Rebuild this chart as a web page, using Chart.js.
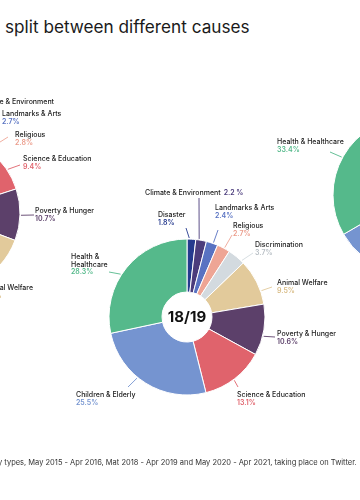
<!DOCTYPE html>
<html><head><meta charset="utf-8">
<script src="https://cdn.jsdelivr.net/npm/chart.js@4.4.1/dist/chart.umd.min.js"></script>
<style>
html,body{margin:0;padding:0;background:#fff;width:360px;height:500px;overflow:hidden;position:relative;font-family:Inter,sans-serif}
#title{position:absolute;left:5px;top:17px;font-size:17.2px;line-height:20px;color:#1a1a1a;white-space:nowrap}
#note{position:absolute;left:-2px;top:458px;font-size:7.5px;line-height:10px;color:#333;white-space:nowrap}
.wrap{position:absolute;width:560px;height:460px}
canvas{display:block}
</style></head><body>
<div id="title">split between different causes</div>
<div class="wrap" id="w0"><canvas id="c0" width="560" height="460"></canvas></div>
<div class="wrap" id="w1"><canvas id="c1" width="560" height="460"></canvas></div>
<div class="wrap" id="w2"><canvas id="c2" width="560" height="460"></canvas></div>
<div id="note">y types, May 2015 - Apr 2016, Mat 2018 - Apr 2019 and May 2020 - Apr 2021, taking place on Twitter.</div>
<script>
// ---- data ----
const causes = ['Disaster','Climate & Environment','Landmarks & Arts','Religious','Discrimination','Animal Welfare','Poverty & Hunger','Science & Education','Children & Elderly','Health & Healthcare'];
const years = ['15/16','18/19','20/21'];
const share1516 = [1.5, 2.0, 2.7, 2.8, 1.6, 12.1, 10.7, 9.4, 25.4, 31.8];
const share1819 = [1.8, 2.2, 2.4, 2.7, 3.7, 9.5, 10.6, 13.1, 25.5, 28.3];
const share2021 = [1.2, 1.9, 2.1, 2.5, 3.0, 8.6, 11.2, 12.0, 24.1, 33.4];
const shares = [share1516, share1819, share2021];

// ---- styles ----
const sliceColors = ['#253a8e','#4b3c7c','#5872c2','#eea595','#d3dadf','#e2ca9b','#5c406a','#e0636c','#7594d0','#55b98b'];
const valueColors = ['#253a8e','#4b3c7c','#5872c2','#eb9c8b','#b7bec4','#d8bb84','#5c406a','#e0636c','#7594d0','#55b98b'];
// donut centres in page pixels, label layout relative to centre
const centres = [[-58,213],[187,317],[411,195]];
const W = 560, H = 460;
const layouts = [
  { // 15/16
    'Disaster':{f:0.4,end:[-12,-92],text:[-140,-112]},
    'Discrimination':{f:0.4,end:[-8,-95],text:[-110,-124]},
    'Climate & Environment':{f:0.4,end:[-2,-100],text:[112,-111],right:true},
    'Landmarks & Arts':{f:0.5,end:[52,-94],text:[60,-99]},
    'Religious':{f:0.8,end:[66,-76],text:[73,-78]},
    'Science & Education':{f:0.54,end:[78,-48],text:[81,-54]},
    'Poverty & Hunger':{f:0.51,end:[92,2],text:[93,-2]},
    'Animal Welfare':{f:0.8,end:[30,80],text:[91,75],right:true},
    'Children & Elderly':{f:0.5,end:[-60,80],text:[-170,85]},
    'Health & Healthcare':{f:0.5,end:[-90,-40],text:[-190,-50]}
  },
  { // 18/19
    'Disaster':{f:0.25,end:[-1,-89],text:[-29,-102]},
    'Climate & Environment':{f:0.3,end:[12,-119],text:[-42,-124],inline:true},
    'Landmarks & Arts':{f:0.6,end:[31,-87],text:[28,-109]},
    'Religious':{f:0.56,end:[45,-82],text:[46,-91]},
    'Discrimination':{f:0.85,end:[66,-64],text:[68,-72]},
    'Animal Welfare':{f:0.71,end:[85,-30],text:[90,-34]},
    'Poverty & Hunger':{f:0.62,end:[88,20],text:[90,17]},
    'Science & Education':{f:0.52,end:[51,70],text:[50,78]},
    'Children & Elderly':{f:0.58,end:[-59,70],text:[-111,78]},
    'Health & Healthcare':{f:0.44,end:[-78,-45],text:[-116,-60],wrap:true}
  },
  { // 20/21
    'Disaster':{f:0.3,end:[1,-92],text:[-20,-110]},
    'Climate & Environment':{f:0.3,end:[14,-118],text:[-30,-124],inline:true},
    'Landmarks & Arts':{f:0.6,end:[31,-88],text:[28,-109]},
    'Religious':{f:0.56,end:[45,-82],text:[46,-91]},
    'Discrimination':{f:0.8,end:[66,-64],text:[68,-72]},
    'Animal Welfare':{f:0.7,end:[85,-30],text:[90,-34]},
    'Poverty & Hunger':{f:0.6,end:[88,20],text:[90,17]},
    'Science & Education':{f:0.5,end:[51,70],text:[50,78]},
    'Children & Elderly':{f:0.5,end:[-8,95],text:[-30,105]},
    'Health & Healthcare':{f:0.49,end:[-81,-43],text:[-134,-53]}
  }
];

const NAME_FONT = '500 7px Inter';
const VAL_FONT = '600 7px Inter';
const LH = 7.4;

const callouts = {
  id:'callouts',
  afterDatasetsDraw(chart, args, opts){
    const ctx = chart.ctx;
    const meta = chart.getDatasetMeta(0);
    const ds = chart.data.datasets[0];
    ctx.save();
    meta.data.forEach((arc,i)=>{
      const name = chart.data.labels[i];
      const L = opts.layout[name]; if(!L) return;
      const p = arc.getProps(['x','y','startAngle','endAngle','outerRadius'], true);
      const a = p.startAngle + (p.endAngle - p.startAngle) * L.f;
      const r = p.outerRadius + 1;
      const sx = p.x + Math.cos(a)*r, sy = p.y + Math.sin(a)*r;
      const ex = p.x + L.end[0], ey = p.y + L.end[1];
      ctx.strokeStyle = ds.backgroundColor[i];
      ctx.lineWidth = 0.9;
      ctx.beginPath(); ctx.moveTo(sx,sy); ctx.lineTo(ex,ey); ctx.stroke();
      const lines = L.wrap ? name.replace('& ','&\n').split('\n') : [name];
      const val = ds.data[i].toFixed(1) + (L.inline ? ' %' : '%');
      ctx.font = NAME_FONT; ctx.textBaseline = 'middle'; ctx.textAlign = 'left';
      const w = Math.max(...lines.map(s=>ctx.measureText(s).width));
      let tx = p.x + L.text[0], ty = p.y + L.text[1];
      if (L.right) tx -= w;
      ctx.fillStyle = '#222';
      lines.forEach((s,k)=>ctx.fillText(s, tx, ty + k*LH));
      ctx.font = VAL_FONT; ctx.fillStyle = opts.valueColors[i];
      if (L.inline) ctx.fillText(val, tx + w + 3, ty);
      else ctx.fillText(val, tx, ty + lines.length*LH);
    });
    ctx.restore();
  }
};
const centreText = {
  id:'centreText',
  afterDatasetsDraw(chart, args, opts){
    const arc = chart.getDatasetMeta(0).data[0]; if(!arc) return;
    const ctx = chart.ctx;
    ctx.save();
    ctx.font = '700 15px Inter'; ctx.fillStyle = '#111';
    ctx.textAlign = 'center'; ctx.textBaseline = 'middle';
    ctx.fillText(opts.text, arc.x, arc.y + 0.5);
    ctx.restore();
  }
};

years.forEach((yr, c)=>{
  const wrap = document.getElementById('w'+c);
  wrap.style.left = (centres[c][0] - W/2) + 'px';
  wrap.style.top = (centres[c][1] - H/2) + 'px';
  const order = causes.map((_,i)=>i).sort((a,b)=>shares[c][a]-shares[c][b]);
  new Chart(document.getElementById('c'+c), {
    type:'doughnut',
    data:{
      labels: order.map(i=>causes[i]),
      datasets:[{
        data: order.map(i=>shares[c][i]),
        backgroundColor: order.map(i=>sliceColors[i]),
        borderColor:'#fff', borderWidth:1, hoverOffset:0
      }]
    },
    options:{
      responsive:false, animation:false, devicePixelRatio:1,
      radius:78, cutout:'32%',
      layout:{padding:{left:(W-160)/2,right:(W-160)/2,top:(H-160)/2,bottom:(H-160)/2}},
      events:[],
      plugins:{
        legend:{display:false}, tooltip:{enabled:false},
        callouts:{layout:layouts[c], valueColors: order.map(i=>valueColors[i])},
        centreText:{text:yr}
      }
    },
    plugins:[callouts, centreText]
  });
});
</script>
</body></html>
